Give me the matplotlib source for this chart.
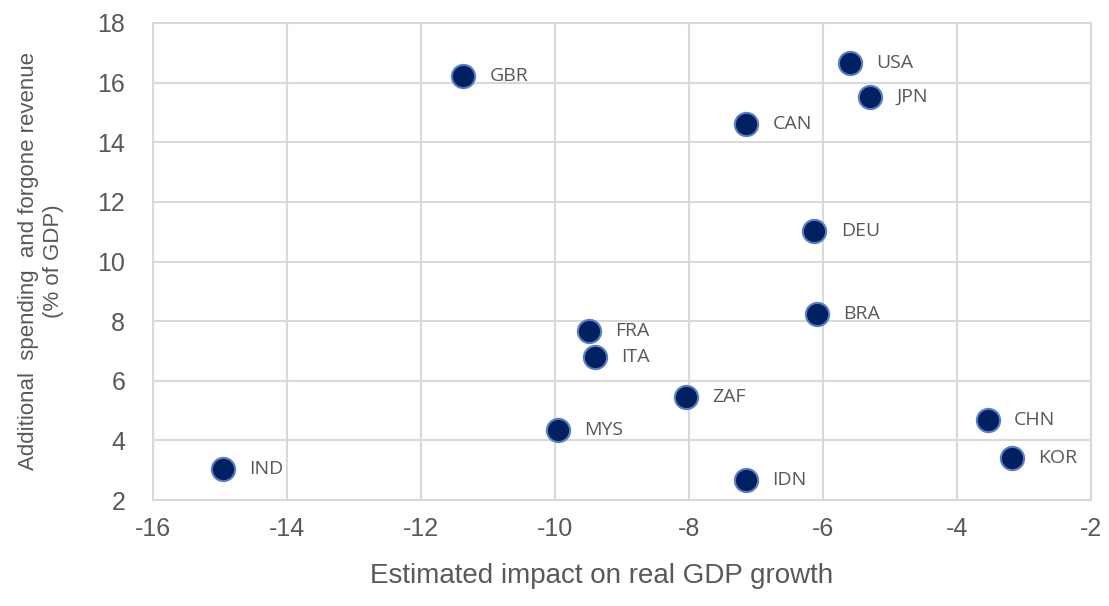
"""
scatter: fiscal support vs estimated impact on real GDP growth
"""

import matplotlib
matplotlib.use('Agg')
import matplotlib.pyplot as plt

countries = ['GBR', 'USA', 'JPN', 'CAN', 'DEU', 'BRA', 'FRA', 'ITA',
             'ZAF', 'MYS', 'IND', 'IDN', 'CHN', 'KOR']
gdp_impact = [-11.37, -5.60, -5.30, -7.15, -6.13, -6.09, -9.49, -9.40,
              -8.04, -9.96, -14.96, -7.15, -3.54, -3.18]
fiscal_support = [16.23, 16.66, 15.53, 14.62, 11.01, 8.23, 7.67, 6.80,
                  5.46, 4.35, 3.05, 2.68, 4.69, 3.42]

xticks = [-16, -14, -12, -10, -8, -6, -4, -2]
yticks = [2, 4, 6, 8, 10, 12, 14, 16, 18]

grey_txt = '#595959'
grid_col = '#d9d9d9'

plt.rcParams['font.family'] = ['Liberation Sans', 'DejaVu Sans']

fig, ax = plt.subplots(figsize=(11.09, 6.06), dpi=100)

ax.scatter(gdp_impact, fiscal_support, s=280, color='#002060',
           edgecolors='#5b7fc4', linewidths=1.5, zorder=3)

for c, x, y in zip(countries, gdp_impact, fiscal_support):
    ax.annotate(c, (x, y), xytext=(19, 0), textcoords='offset points',
                va='center', ha='left', fontsize=14, color=grey_txt,
                family='Open Sans')

ax.set_xlim(-16, -2)
ax.set_ylim(2, 18)
ax.set_xticks(xticks)
ax.set_yticks(yticks)
ax.set_xticklabels([str(t) for t in xticks])
ax.set_yticklabels([str(t) for t in yticks])
ax.grid(True, color=grid_col, linewidth=1.5)
ax.set_axisbelow(True)
for s in ax.spines.values():
    s.set_color(grid_col)
    s.set_linewidth(1.5)
ax.tick_params(length=0, labelsize=18, colors=grey_txt)
ax.tick_params(axis='x', pad=12)
ax.tick_params(axis='y', pad=20)

ax.set_xlabel('Estimated impact on real GDP growth', fontsize=20,
              color=grey_txt, labelpad=16)
ax.xaxis.label.set_x(0.478)
ax.set_ylabel('Additional  spending  and forgone revenue\n(% of GDP)',
              fontsize=16, color=grey_txt, labelpad=24, linespacing=1.25)

plt.subplots_adjust(left=153/1109, right=1091/1109,
                    top=1-23/606, bottom=1-500/606)

fig.savefig('out.png', dpi=100)
